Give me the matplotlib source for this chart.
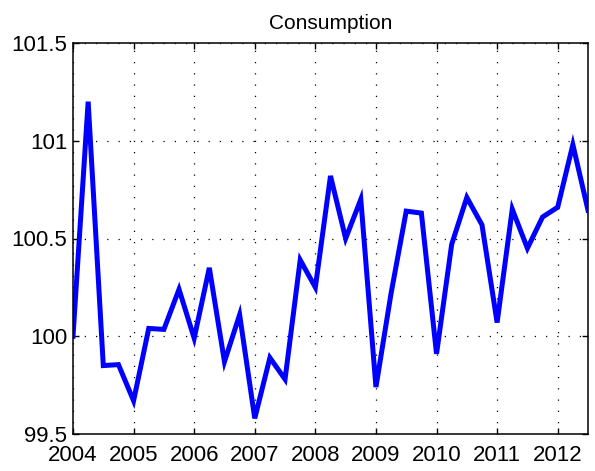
import numpy as np
import matplotlib
matplotlib.use('Agg')
import matplotlib.pyplot as plt

plt.rcParams['font.family'] = ['Liberation Sans', 'DejaVu Sans']

# quarterly data, 2004Q1 .. 2012Q3
years = np.arange(2004, 2012.51, 0.25)
consumption = [100.00, 101.20, 99.85, 99.855, 99.67, 100.04, 100.035, 100.24,
               99.99, 100.35, 99.87, 100.11, 99.58, 99.89, 99.78, 100.39,
               100.25, 100.82, 100.50, 100.70, 99.74, 100.22, 100.64, 100.63,
               99.91, 100.47, 100.71, 100.57, 100.07, 100.65, 100.45, 100.61,
               100.66, 100.98, 100.645]
xticks = list(range(2004, 2013))
yticks = [99.5, 100, 100.5, 101, 101.5]
yticklabels = ['99.5', '100', '100.5', '101', '101.5']

fig = plt.figure(figsize=(5.95, 4.71), dpi=100)
ax = fig.add_axes([73/595, 1 - 434/471, (588 - 73)/595, (434 - 43)/471])
ax.plot(years, consumption, color='#0000ff', lw=3.6, solid_joinstyle='miter')
ax.set_xlim(2004, 2012.5)
ax.set_ylim(99.5, 101.5)
ax.set_xticks(xticks)
ax.set_xticklabels([str(y) for y in xticks])
ax.set_yticks(yticks)
ax.set_yticklabels(yticklabels)
ax.tick_params(direction='in', top=True, right=True, length=4, width=1,
               labelsize=16)
ax.tick_params(axis='x', pad=8)
ax.tick_params(axis='y', pad=4)
for s in ax.spines.values():
    s.set_linewidth(1.1)
ax.grid(True, color='k', lw=0.9, linestyle=(0, (1, 8)))
ax.set_title('Consumption', fontsize=15, pad=10)
fig.savefig('out.png', dpi=100)
